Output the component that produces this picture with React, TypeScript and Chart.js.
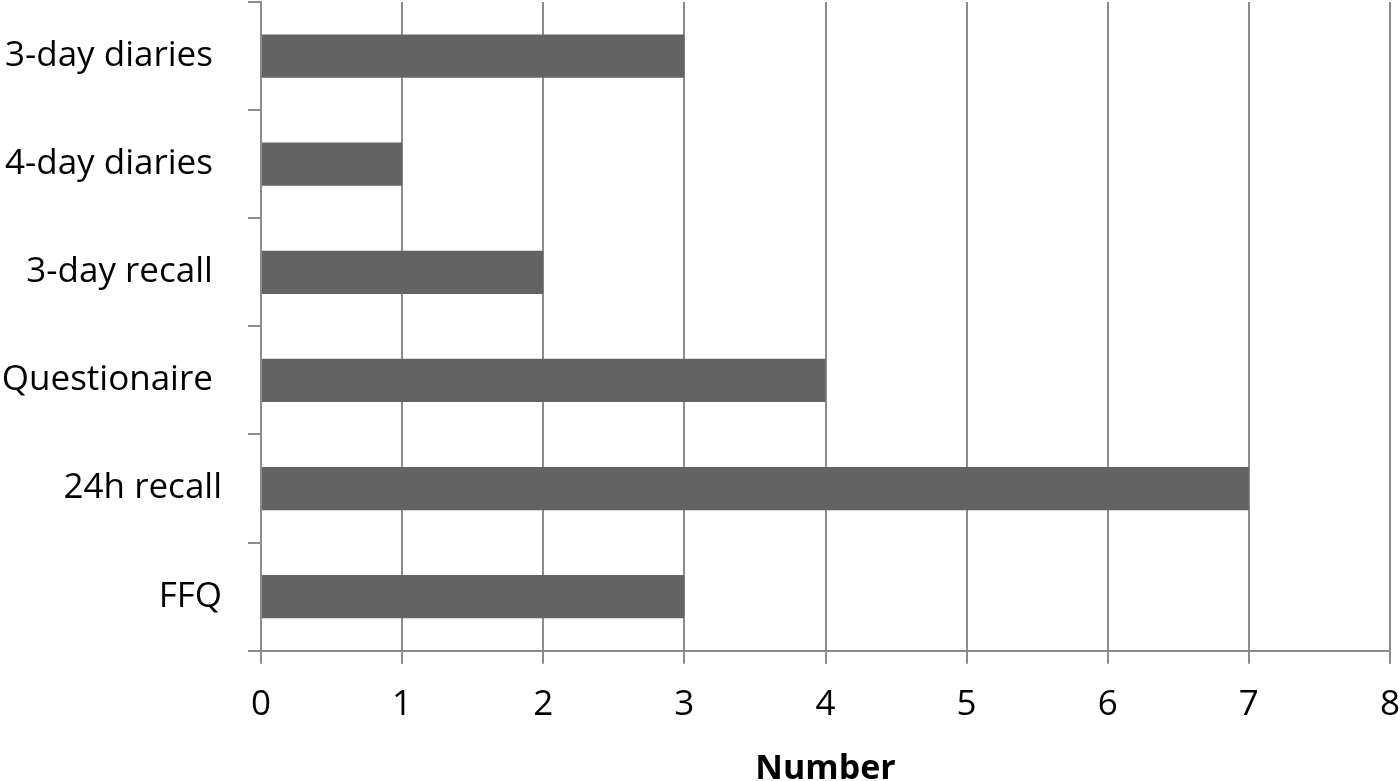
import React, { useEffect, useRef } from "react";
import { Chart, registerables } from "chart.js";

Chart.register(...registerables);

const categories = ["3-day diaries ", "4-day diaries ", "3-day recall ", "Questionaire ", "24h recall", "FFQ"];
const counts = [3, 1, 2, 4, 7, 3];
const xTicks = [0, 1, 2, 3, 4, 5, 6, 7, 8];
const xTitle = "Number";

export default function App() {
  const ref = useRef<HTMLCanvasElement>(null);
  useEffect(() => {
    document.body.style.margin = "0";
    const ctx = ref.current!;
    const chart = new Chart(ctx, {
      type: "bar",
      data: {
        labels: categories,
        datasets: [
          {
            data: counts,
            backgroundColor: "#636363",
            borderWidth: 0,
            barPercentage: 1,
            categoryPercentage: 0.4,
          },
        ],
      },
      options: {
        indexAxis: "y",
        responsive: false,
        animation: false,
        devicePixelRatio: 1,
        layout: { padding: { top: 2, right: 10, left: 0, bottom: -9 } },
        plugins: { legend: { display: false }, tooltip: { enabled: false } },
        scales: {
          x: {
            min: xTicks[0],
            max: xTicks[xTicks.length - 1],
            afterFit: (axis: any) => {
              axis.paddingLeft = 0;
              axis.paddingRight = 0;
            },
            ticks: {
              stepSize: 1,
              color: "#000",
              padding: 20.5,
              font: { family: "Open Sans", size: 35 },
            },
            grid: { color: "#8c8c8c", lineWidth: 2, tickLength: 13 },
            border: { display: true, color: "#8c8c8c", width: 2 },
            title: {
              display: true,
              text: xTitle,
              color: "#000",
              font: { family: "Open Sans", size: 34, weight: "bold" },
              padding: { top: 2.5, bottom: 0 },
            },
          },
          y: {
            afterFit: (axis: any) => {
              axis.width = 261;
              axis.paddingTop = 0;
              axis.paddingBottom = 0;
            },
            ticks: {
              color: "#000",
              padding: 26,
              font: { family: "Open Sans", size: 35 },
            },
            grid: {
              drawOnChartArea: false,
              drawTicks: true,
              tickLength: 13,
              color: "#8c8c8c",
              lineWidth: 2,
              offset: true,
            },
            border: { display: true, color: "#8c8c8c", width: 2 },
          },
        },
      },
    });
    return () => chart.destroy();
  }, []);
  return (
    <div style={{ width: 1400, height: 781, background: "#fff" }}>
      <canvas ref={ref} width={1400} height={781} />
    </div>
  );
}
